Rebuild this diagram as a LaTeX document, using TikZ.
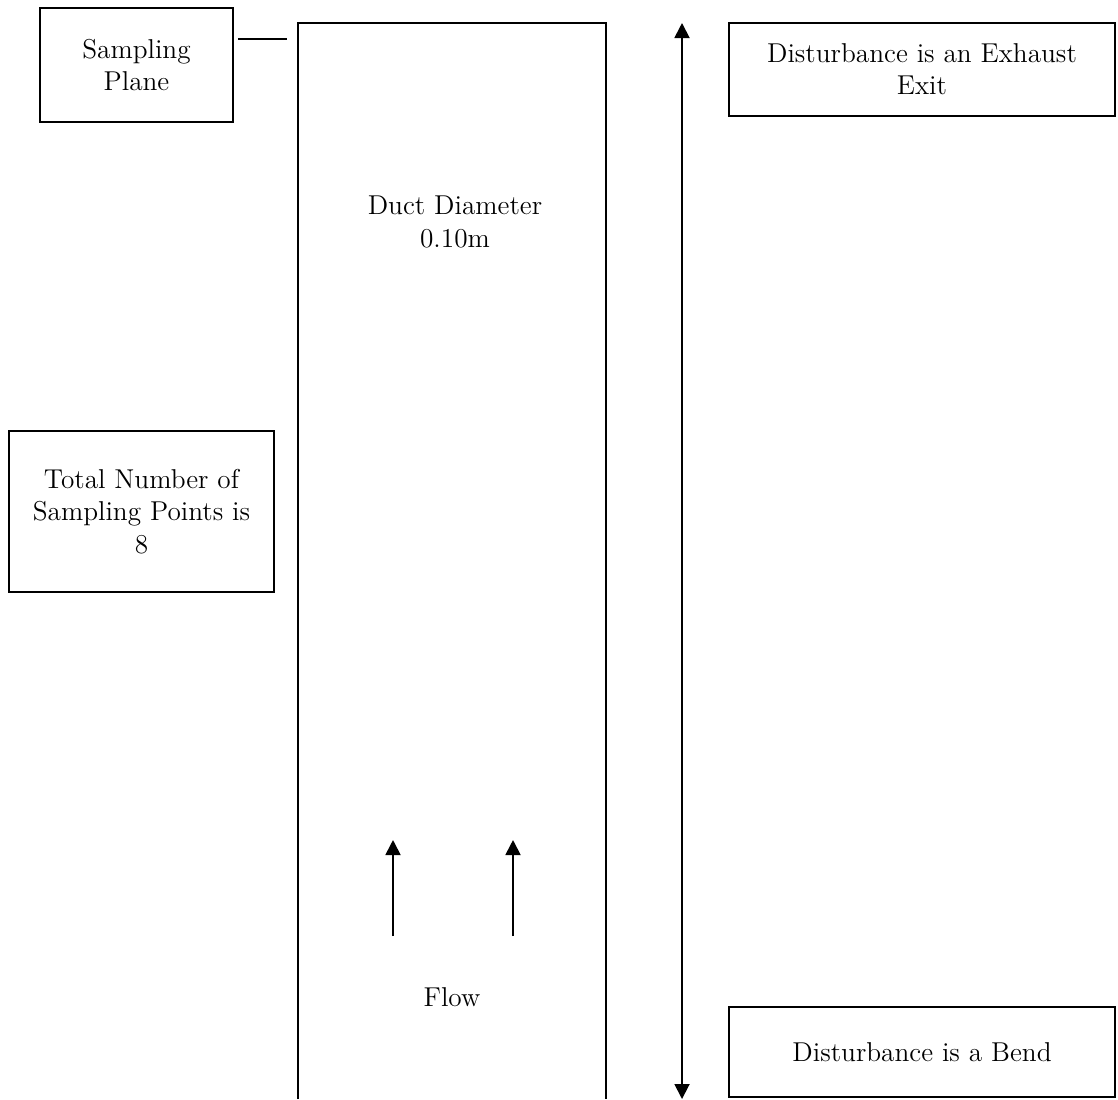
\documentclass[tikz,border=0pt]{standalone}
\usetikzlibrary{arrows.meta}
\begin{document}
\begin{tikzpicture}[x=0.44pt,y=-0.44pt,line width=0.8pt,
  >={Triangle[width=6.6pt,length=6.6pt]},
  lbl/.style={align=center,font=\fontsize{12}{14.2}\selectfont,inner sep=0pt},
  txtbox/.style={lbl,draw}]
\useasboundingbox (0,0) rectangle (1118,1099);

% Duct walls, open at the bottom
\draw (298,1099) -- (298,23) -- (606,23) -- (606,1099);

% Boxes
\node[txtbox,minimum width=84.9pt,minimum height=50.2pt] (plane) at (136.5,65) {Sampling\\Plane};
\node[txtbox,minimum width=169.8pt,minimum height=40.9pt] (exhaust) at (922,69.5) {Disturbance is an Exhaust\\Exit};
\node[txtbox,minimum width=116.6pt,minimum height=70.8pt] (total) at (141.5,511.5) {Total Number of\\Sampling Points is\\8};
\node[txtbox,minimum width=169.8pt,minimum height=39.6pt] (bend) at (922,1052) {Disturbance is a Bend};

% Texts inside the duct
\node[lbl] (diam) at (455,222) {Duct Diameter\\0.10m};
\node[lbl] (flow) at (452,997) {Flow};

% Sampling plane mark
\coordinate (markL) at (238,39);
\coordinate (markR) at (287,39);
\draw (markL) -- (markR);

% Distance between the disturbances
\coordinate (dtop) at (682,23);
\coordinate (dbot) at (682,1099);
\draw[<->] (dtop) -- (dbot);

% Flow direction
\foreach \x in {393,513}
  \draw[->] (\x,936) -- (\x,840);
\end{tikzpicture}
\end{document}
